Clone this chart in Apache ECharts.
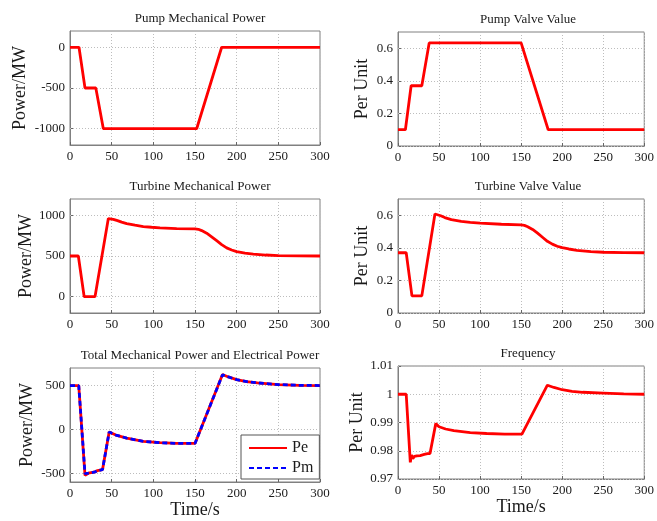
<!DOCTYPE html>
<html>
<head>
<meta charset="utf-8">
<script src="https://cdn.jsdelivr.net/npm/echarts@6/dist/echarts.min.js"></script>
<style>
  html, body { margin: 0; padding: 0; background: #fff; }
  #chart { width: 657px; height: 521px; }
</style>
</head>
<body>
<div id="chart"></div>
<script>
// Pump Mechanical Power
const pumpPowerT = [0, 10.8, 18, 31, 40, 152, 182, 300];
const pumpPowerV = [0, 0, -500, -500, -1000, -1000, 0, 0];

// Pump Valve Value
const pumpValveT = [0, 9, 16, 29, 38, 150, 183, 300];
const pumpValveV = [0.1, 0.1, 0.37, 0.37, 0.633, 0.633, 0.1, 0.1];

// Turbine Mechanical Power
const turbPowerT = [0, 10, 17, 30, 46, 48, 52, 57, 62, 68, 78, 88, 98, 108, 128, 150, 154, 158, 164, 170, 176, 182, 188, 194, 200, 210, 220, 235, 250, 275, 300];
const turbPowerV = [500, 500, 0, 0, 960, 962, 950, 935, 916, 898, 878, 862, 853, 846, 837, 833, 828, 812, 780, 735, 688, 640, 600, 574, 553, 535, 524, 512, 504, 501, 500];

// Turbine Valve Value
const turbValveT = [0, 10, 17, 29, 45, 47, 52, 57, 65, 77, 88, 100, 126, 150, 154, 158, 164, 170, 176, 182, 188, 194, 200, 208, 218, 235, 250, 275, 300];
const turbValveV = [0.37, 0.37, 0.105, 0.105, 0.608, 0.607, 0.597, 0.586, 0.573, 0.562, 0.556, 0.552, 0.545, 0.541, 0.538, 0.53, 0.513, 0.49, 0.465, 0.44, 0.423, 0.41, 0.401, 0.393, 0.385, 0.377, 0.373, 0.371, 0.37];

// Total Mechanical Power and Electrical Power
const totalT = [0, 10.5, 18, 22, 30, 33, 39, 41, 47, 55, 68, 88, 108, 128, 150, 152, 183, 190, 200, 212, 225, 250, 275, 300];
const peV = [500, 500, -525, -500, -485, -470, -460, -455, -30, -65, -99, -136, -152, -159, -160, -158, 625, 598, 567, 545, 530, 511, 503, 500];
const pmV = [500, 500, -505, -500, -485, -470, -460, -455, -30, -65, -99, -136, -152, -159, -160, -158, 622, 598, 567, 545, 530, 511, 503, 500];

// Frequency
const freqT = [0, 10, 15, 16.5, 18, 20, 23, 27, 32, 36, 39, 46, 50, 58, 68, 88, 108, 130, 151, 182, 190, 200, 212, 225, 250, 275, 300];
const freqV = [1.0, 1.0, 0.9759, 0.9785, 0.9772, 0.978, 0.9782, 0.9783, 0.9787, 0.979, 0.979, 0.9896, 0.9885, 0.9877, 0.9871, 0.9864, 0.9861, 0.9859, 0.9859, 1.0032, 1.0024, 1.0016, 1.001, 1.0007, 1.0004, 1.0001, 1.0];

// y tick labels per panel
const pumpPowerTicks = [-1000, -500, 0];
const valveTicks = [0, 0.2, 0.4, 0.6];
const turbPowerTicks = [0, 500, 1000];
const totalTicks = [-500, 0, 500];
const freqTicks = [0.97, 0.98, 0.99, 1, 1.01];

const titles = ["Pump Mechanical Power", "Pump Valve Value", "Turbine Mechanical Power",
  "Turbine Valve Value", "Total Mechanical Power and Electrical Power", "Frequency"];

const serif = "'Liberation Serif', 'DejaVu Serif', serif";
const ink = "#1a1a1a";
const gridLine = { color: "#bdbdbd", type: [1, 2], width: 1 };

const grids = [
  { left: 70, top: 31, width: 250, height: 114 },
  { left: 398, top: 32, width: 250, height: 114 },
  { left: 70, top: 199, width: 250, height: 114 },
  { left: 398, top: 199, width: 250, height: 114 },
  { left: 70, top: 368, width: 250, height: 114 },
  { left: 398, top: 366, width: 250, height: 113 },
];

const yCfg = [
  { min: -1200, max: 200, ticks: pumpPowerTicks, name: "Power/MW", gap: 41 },
  { min: 0, max: 0.7, ticks: valveTicks, name: "Per Unit", gap: 27 },
  { min: -200, max: 1200, ticks: turbPowerTicks, name: "Power/MW", gap: 35 },
  { min: 0, max: 0.7, ticks: valveTicks, name: "Per Unit", gap: 27 },
  { min: -600, max: 700, ticks: totalTicks, name: "Power/MW", gap: 34 },
  { min: 0.97, max: 1.01, ticks: freqTicks, name: "Per Unit", gap: 31 },
];

const zip = (t, v) => t.map((x, i) => [x, v[i]]);

// horizontal dotted grid lines at the custom y ticks, drawn under the curve
const hGrid = ticks => ({
  silent: true,
  z: 1,
  symbol: "none",
  label: { show: false },
  emphasis: { disabled: true },
  lineStyle: gridLine,
  data: ticks.map(v => ({ yAxis: v })),
});

const chart = echarts.init(document.getElementById("chart"), null, { renderer: "canvas" });

const option = {
  animation: false,
  backgroundColor: "#fff",
  textStyle: { fontFamily: serif, color: ink },
  title: titles.map((text, i) => ({
    text,
    left: grids[i].left + grids[i].width / 2,
    top: grids[i].top - 24,
    textAlign: "center",
    textStyle: { fontFamily: serif, fontSize: 13, fontWeight: "normal", color: ink },
  })),
  grid: grids.map(g => ({ ...g, show: true, borderColor: "#808080", borderWidth: 1, backgroundColor: "#fff" })),
  xAxis: grids.map((g, i) => ({
    type: "value",
    gridIndex: i,
    min: 0,
    max: 300,
    interval: 50,
    name: i >= 4 ? "Time/s" : "",
    nameLocation: "middle",
    nameGap: 17,
    nameTextStyle: { fontFamily: serif, fontSize: 18, color: ink },
    axisLine: { show: true, onZero: false, lineStyle: { color: "#808080" } },
    axisTick: { show: true, inside: true, length: 3, lineStyle: { color: "#666" } },
    axisLabel: { fontFamily: serif, fontSize: 13, color: ink, margin: 5 },
    splitLine: { show: true, lineStyle: gridLine },
  })),
  yAxis: yCfg.map((c, i) => ({
    type: "value",
    gridIndex: i,
    min: c.min,
    max: c.max,
    name: c.name,
    nameLocation: "middle",
    nameGap: c.gap,
    nameTextStyle: { fontFamily: serif, fontSize: 18, color: ink },
    axisLine: { show: true, onZero: false, lineStyle: { color: "#808080" } },
    axisTick: { show: true, inside: true, length: 3, customValues: c.ticks, lineStyle: { color: "#666" } },
    axisLabel: { fontFamily: serif, fontSize: 13, color: ink, margin: 5, customValues: c.ticks,
      formatter: v => String(v) },
    splitLine: { show: false },
  })),
  legend: {
    data: ["Pe", "Pm"],
    orient: "vertical",
    left: 241,
    top: 435,
    padding: [5, 6, 3, 7],
    itemGap: 4,
    itemWidth: 38,
    itemHeight: 14,
    backgroundColor: "#fff",
    borderColor: "#555",
    borderWidth: 1,
    borderRadius: 0,
    itemStyle: { opacity: 0 },
    textStyle: { fontFamily: serif, fontSize: 16, color: ink, padding: [0, 4, 0, 0] },
  },
  series: [
    { type: "line", xAxisIndex: 0, yAxisIndex: 0, data: zip(pumpPowerT, pumpPowerV), markLine: hGrid(pumpPowerTicks) },
    { type: "line", xAxisIndex: 1, yAxisIndex: 1, data: zip(pumpValveT, pumpValveV), markLine: hGrid(valveTicks) },
    { type: "line", xAxisIndex: 2, yAxisIndex: 2, data: zip(turbPowerT, turbPowerV), markLine: hGrid(turbPowerTicks) },
    { type: "line", xAxisIndex: 3, yAxisIndex: 3, data: zip(turbValveT, turbValveV), markLine: hGrid(valveTicks) },
    { type: "line", name: "Pe", xAxisIndex: 4, yAxisIndex: 4, data: zip(totalT, peV), markLine: hGrid(totalTicks) },
    { type: "line", name: "Pm", xAxisIndex: 4, yAxisIndex: 4, data: zip(totalT, pmV),
      lineStyle: { color: "#0000ff", width: 2.8, type: [5, 3] }, itemStyle: { color: "#0000ff" } },
    { type: "line", xAxisIndex: 5, yAxisIndex: 5, data: zip(freqT, freqV), markLine: hGrid(freqTicks) },
  ].map(s => ({
    symbol: "none",
    z: 3,
    lineStyle: { color: "#ff0000", width: 2.8 },
    itemStyle: { color: "#ff0000" },
    ...s,
  })),
};

chart.setOption(option);
</script>
</body>
</html>
